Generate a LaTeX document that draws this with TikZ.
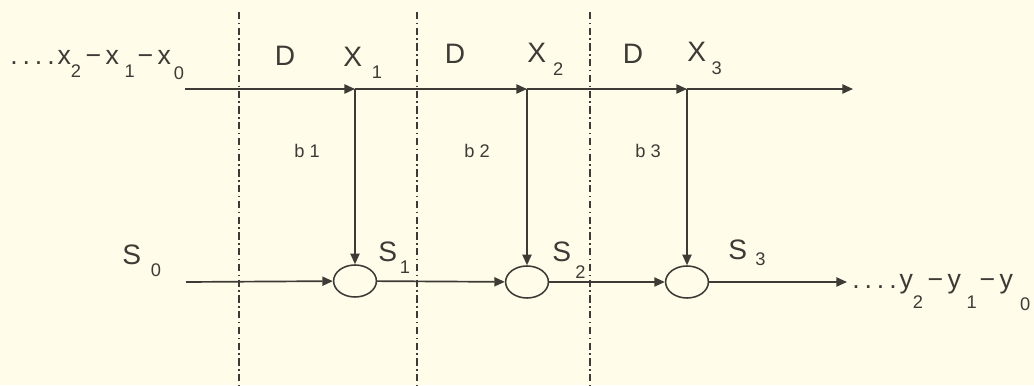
\documentclass[tikz,border=0pt]{standalone}
\usepackage{fontspec}
\setmainfont{Liberation Sans}
\usetikzlibrary{arrows.meta,shapes.geometric}

\definecolor{paper}{RGB}{255,253,234}
\definecolor{ink}{RGB}{62,58,54}

% lowered index, set apart from its letter
\newcommand\low[2][8pt]{\raisebox{-#1}{\fontsize{13}{13}\selectfont #2}}
\newcommand\dotrow{.\hspace{3.5pt}.\hspace{3.5pt}.\hspace{3.5pt}.\hspace{2pt}}

\begin{document}
\begin{tikzpicture}
  [x=0.025cm,y=-0.025cm,ink,
   every node/.style={inner sep=0pt,font=\fontsize{20}{20}\selectfont},
   flow/.style={line width=1.2pt,-{Triangle[length=7.5pt,width=6.5pt]}},
   cell/.style={ellipse,draw,line width=1.1pt,minimum width=1.07cm,minimum height=0.8cm},
   stage/.style={line width=0.9pt,dash pattern=on 5pt off 2.5pt on 1.2pt off 2.5pt},
   small/.style={font=\fontsize{13}{13}\selectfont},
   seq/.style={font=\fontsize{19}{19}\selectfont}]
  \fill[paper] (0,0) rectangle (1034,385);

  % stage borders
  \foreach \x in {239,417,590}
    \draw[stage] (\x,12) -- (\x,385);

  % adders
  \node (e1)[cell] at (355,281) {};
  \node (e2)[cell] at (527,282) {};
  \node (e3)[cell] at (687,282) {};

  \coordinate (xin) at (185,89);
  \coordinate (j1) at (355,89);
  \coordinate (j2) at (527,89);
  \coordinate (j3) at (687,89);
  \coordinate (xout) at (853,89);
  \coordinate (sin) at (186,282);
  \coordinate (sout) at (847,282);

  \foreach \from/\to in {xin/j1,j1/j2,j2/j3,j3/xout,
                         sin/e1,e1/e2,e2/e3,e3/sout,
                         j1/e1,j2/e2,j3/e3}
    \draw[flow] (\from) -- (\to);

  % labels
  \node (xs)[seq,anchor=base west] at (10,65)
    {\dotrow x\low[9pt]{2}\,−\,x\hspace{4pt}\low[9pt]{1}\hspace{2pt}−\,x\hspace{2pt}\low[10pt]{0}};
  \node (ys)[seq,anchor=base west] at (852,289)
    {\dotrow y\low[14pt]{2}\,−\,y\hspace{4pt}\low[14pt]{1}\hspace{2pt}−\,y\hspace{5pt}\low[15pt]{0}};

  \node (d1)[anchor=base] at (285,66) {D};
  \node (d2)[anchor=base] at (455,64) {D};
  \node (d3)[anchor=base] at (633,64) {D};
  \node (x1)[anchor=base west] at (343,67) {X\hspace{7pt}\low{1}};
  \node (x2)[anchor=base west] at (527,63) {X\hspace{5pt}\low[9pt]{2}};
  \node (x3)[anchor=base west] at (687,62) {X\hspace{4pt}\low[9pt]{3}};

  \node (b1)[small,anchor=base] at (307,158) {b 1};
  \node (b2)[small,anchor=base] at (477,158) {b 2};
  \node (b3)[small,anchor=base] at (648,158) {b 3};

  \node (s0)[anchor=base west] at (122,265) {S\hspace{7pt}\low{0}};
  \node (s1)[anchor=base west] at (378,262) {S\hspace{2pt}\low{1}};
  \node (s2)[anchor=base west] at (552,262) {S\hspace{3pt}\low[12pt]{2}};
  \node (s3)[anchor=base west] at (728,260) {S\hspace{6pt}\low[4pt]{3}};
\end{tikzpicture}
\end{document}
